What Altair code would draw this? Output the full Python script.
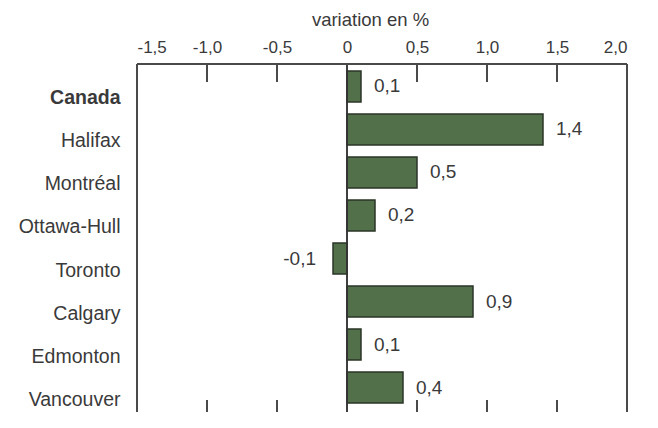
import altair as alt
import pandas as pd

cities = ["Canada", "Halifax", "Montréal", "Ottawa-Hull", "Toronto", "Calgary", "Edmonton", "Vancouver"]
values = [0.1, 1.4, 0.5, 0.2, -0.1, 0.9, 0.1, 0.4]
axis_values = [-1.5, -1.0, -0.5, 0, 0.5, 1.0, 1.5, 2.0]
inner_ticks = [-1.0, -0.5, 0.5, 1.0, 1.5]
frame_x = [-1.5, 2.0]

df = pd.DataFrame({"city": cities, "v": values})
df_ticks = pd.DataFrame({"t": inner_ticks})
df_frame = pd.DataFrame({"b": frame_x})

FONT = "Liberation Sans"
TXT = "#3a3a3a"
W, H = 490, 348

xscale = alt.Scale(domain=[-1.5, 2.0], nice=False, zero=False)
yscale = alt.Scale(domain=cities, range=[7, 339], paddingInner=0.28, paddingOuter=0)

num_expr = "replace(replace(format(datum.value, '.1f'), '.', ','), '\u2212', '-')"

xaxis = alt.Axis(orient="top", title="variation en %", values=axis_values,
                 labelExpr="datum.value == 0 ? '0' : " + num_expr,
                 domain=False, ticks=False, tickSize=0, grid=False,
                 labelPadding=12, labelBaseline="alphabetic",
                 labelFontSize=17, labelFont=FONT, labelColor=TXT,
                 titleFont=FONT, titleFontSize=18.5, titleFontWeight="normal",
                 titleColor=TXT, titleX=233, titleY=-39, titleAlign="center",
                 titleBaseline="alphabetic")
yaxis = alt.Axis(title=None, domain=False, ticks=False, labelPadding=17,
                 labelOffset=12, labelFontSize=19.5, labelFont=FONT, labelColor=TXT,
                 labelFontWeight={"condition": {"test": "datum.value == 'Canada'", "value": "bold"}, "value": "normal"})

X = lambda f: alt.X(f, scale=xscale, axis=xaxis, title="variation en %")
Y = lambda: alt.Y("city:N", sort=cities, scale=yscale, axis=yaxis, title=None)

bars = alt.Chart(df).mark_bar(fill="#52704a", stroke="#2b3527", strokeWidth=1.5).encode(
    y=Y(), x=X("v:Q"))

lbl = alt.Chart(df).transform_calculate(
    lbl="replace(replace(format(datum.v, '.1f'), '.', ','), '\u2212', '-')"
)
text_pos = lbl.transform_filter("datum.v >= 0").mark_text(
    align="left", baseline="middle", dx=13, fontSize=19, font=FONT, color=TXT
).encode(y=Y(), x=X("v:Q"), text="lbl:N")
text_neg = lbl.transform_filter("datum.v < 0").mark_text(
    align="right", baseline="middle", dx=-17, fontSize=19, font=FONT, color=TXT
).encode(y=Y(), x=X("v:Q"), text="lbl:N")

frame_sides = alt.Chart(df_frame).mark_rule(color="#4a4a4a", strokeWidth=2).encode(
    x=X("b:Q"))
frame_top = alt.Chart(df_frame).mark_rule(color="#4a4a4a", strokeWidth=2).encode(
    x=alt.datum(-1.5), x2=alt.datum(2.0), y=alt.value(0))
zero_line = alt.Chart(df_frame).mark_rule(color="#333333", strokeWidth=1.5).encode(
    x=alt.datum(0))
ticks_top = alt.Chart(df_ticks).mark_rule(color="#4a4a4a", strokeWidth=2).encode(
    x=X("t:Q"), y=alt.value(0), y2=alt.value(18))
ticks_bottom = alt.Chart(df_ticks).mark_rule(color="#4a4a4a", strokeWidth=2).encode(
    x=X("t:Q"), y=alt.value(H - 12), y2=alt.value(H))

chart = alt.layer(
    bars, zero_line, frame_sides, frame_top, ticks_top, ticks_bottom, text_pos, text_neg
).properties(
    width=W, height=H,
    autosize=alt.AutoSizeParams(type="none"),
    padding={"left": 129, "top": 56, "right": 10, "bottom": 0},
).configure_view(stroke=None).configure(background="white")

chart.save("out.html", embed_options={"renderer": "svg", "actions": False})
